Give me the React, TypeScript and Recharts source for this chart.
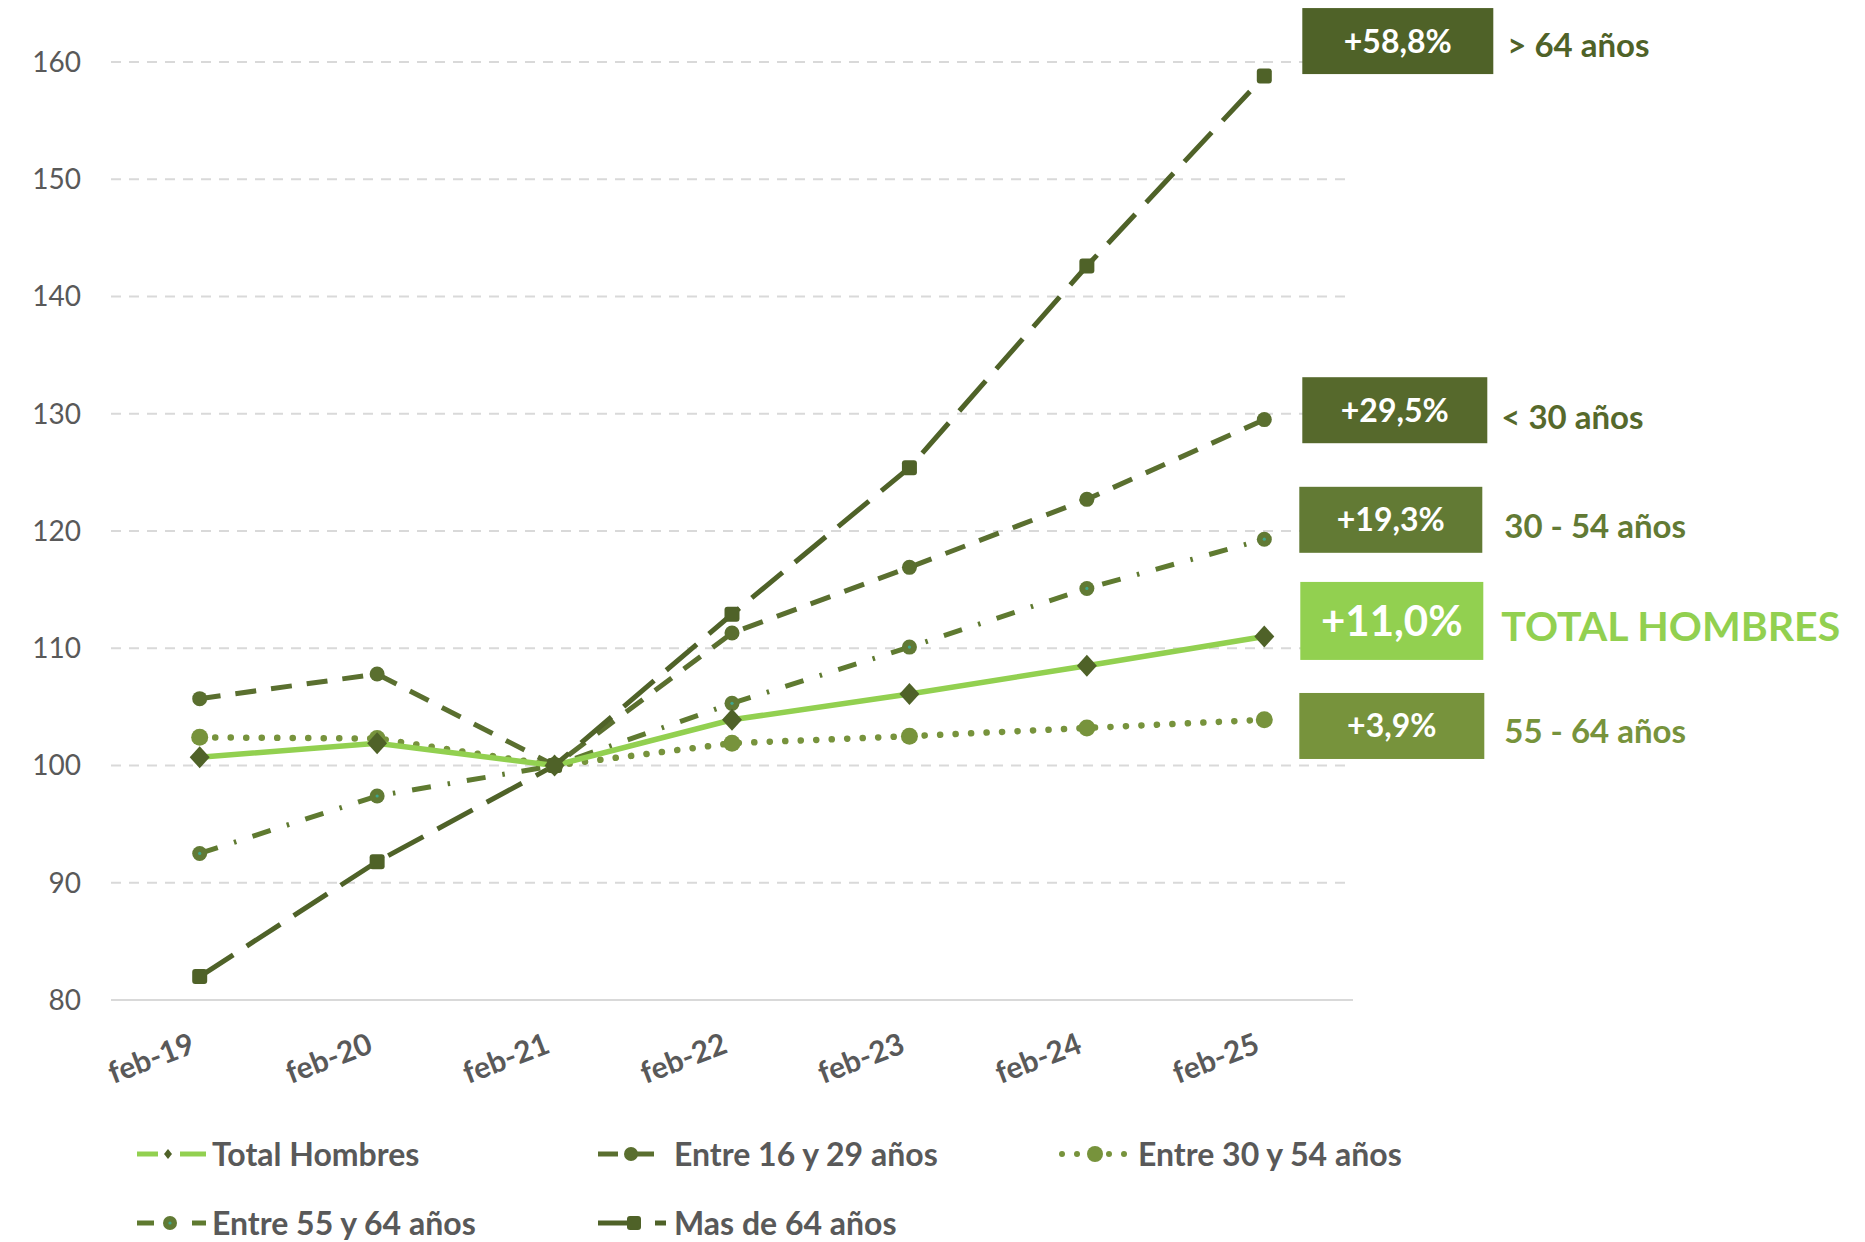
import React from 'react';
import { LineChart, Line, XAxis, YAxis, CartesianGrid, Legend } from 'recharts';

// ---------- DATA ----------
const categories = ['feb-19', 'feb-20', 'feb-21', 'feb-22', 'feb-23', 'feb-24', 'feb-25'];
const totalHombres = [100.7, 101.9, 100.0, 103.9, 106.1, 108.5, 111.0];
const entre16y29 = [105.7, 107.8, 100.0, 111.3, 116.9, 122.7, 129.5];
const entre30y54 = [102.4, 102.3, 100.0, 101.9, 102.5, 103.2, 103.9];
const entre55y64 = [92.5, 97.4, 100.0, 105.3, 110.1, 115.1, 119.3];
const masDe64 = [82.0, 91.8, 100.0, 112.9, 125.4, 142.6, 158.8];
const yTicks = [80, 90, 100, 110, 120, 130, 140, 150, 160];

const seriesKeys = ['total', 'e16', 'e30', 'e55', 'm64'];
const seriesNames = ['Total Hombres', 'Entre 16 y 29 años', 'Entre 30 y 54 años', 'Entre 55 y 64 años', 'Mas de 64 años'];
const endPctLabels = ['+11,0%', '+29,5%', '+3,9%', '+19,3%', '+58,8%'];
const endGroupLabels = ['TOTAL HOMBRES', '< 30 años', '55 - 64 años', '30 - 54 años', '> 64 años'];

const data = categories.map((cat, i) => ({
  cat,
  total: totalHombres[i],
  e16: entre16y29[i],
  e30: entre30y54[i],
  e55: entre55y64[i],
  m64: masDe64[i],
}));

// ---------- STYLE ----------
const FONT = "Lato, 'Open Sans', 'DejaVu Sans', sans-serif";
const W = 1849;
const H = 1234;
const LEGEND_H = 148;

type St = {
  color: string; width: number; dash?: string; cap?: 'round' | 'butt';
  marker: 'diamond' | 'circle' | 'circleTeal' | 'square'; mfill: string; msize: number;
  box: { dx: number; dy: number; w: number; h: number; fill: string; fs: number };
  lab: { gap: number; dy: number; color: string; fs: number };
  legend: { iconX: number; textX: number; rowY: number };
};

const STYLE: Record<string, St> = {
  total: {
    color: '#92D050', width: 5.5, marker: 'diamond', mfill: '#4F6228', msize: 10,
    box: { dx: 36, dy: -15.6, w: 183, h: 78, fill: '#92D050', fs: 42 },
    lab: { gap: 18, dy: 5.7, color: '#92D050', fs: 41 },
    legend: { iconX: 129, textX: 204, rowY: 60 },
  },
  e16: {
    color: '#5A6F2F', width: 5, dash: '21 15', marker: 'circle', mfill: '#5A6F2F', msize: 7.5,
    box: { dx: 38, dy: -9.4, w: 185, h: 66, fill: '#56692C', fs: 32 },
    lab: { gap: 14, dy: 6.5, color: '#56692C', fs: 33 },
    legend: { iconX: 590, textX: 666, rowY: 60 },
  },
  e30: {
    color: '#77933C', width: 6.5, dash: '0.1 15.4', cap: 'round', marker: 'circle', mfill: '#77933C', msize: 8.5,
    box: { dx: 35, dy: 6.2, w: 185, h: 66, fill: '#77933C', fs: 32 },
    lab: { gap: 20, dy: 5.3, color: '#77933C', fs: 33 },
    legend: { iconX: 1049, textX: 1130, rowY: 60 },
  },
  e55: {
    color: '#5F7A30', width: 5, dash: '19 17 2.5 17', marker: 'circleTeal', mfill: '#617A34', msize: 7.5,
    box: { dx: 35, dy: -19.4, w: 183, h: 66, fill: '#627A34', fs: 32 },
    lab: { gap: 22, dy: 6, color: '#627A34', fs: 33 },
    legend: { iconX: 129, textX: 204, rowY: 129 },
  },
  m64: {
    color: '#4F6228', width: 5, dash: '40 16', marker: 'square', mfill: '#4F6228', msize: 7.5,
    box: { dx: 38, dy: -35, w: 191, h: 66, fill: '#4F6228', fs: 32 },
    lab: { gap: 14, dy: 4, color: '#4F6228', fs: 33 },
    legend: { iconX: 590, textX: 666, rowY: 129 },
  },
};

const renderMarker = (st: St, cx: number, cy: number) => {
  const s = st.msize;
  if (st.marker === 'diamond') {
    return <polygon points={`${cx},${cy - s - 1} ${cx + s},${cy} ${cx},${cy + s + 1} ${cx - s},${cy}`} fill={st.mfill} />;
  }
  if (st.marker === 'square') {
    return <rect x={cx - s} y={cy - s} width={2 * s} height={2 * s} rx={3} fill={st.mfill} />;
  }
  if (st.marker === 'circleTeal') {
    return (
      <g>
        <circle cx={cx} cy={cy} r={s} fill={st.mfill} />
        <circle cx={cx} cy={cy} r={1.6} fill="#3FA68C" />
      </g>
    );
  }
  return <circle cx={cx} cy={cy} r={s} fill={st.mfill} />;
};

const renderEndLabel = (key: string, cx: number, cy: number) => {
  const i = seriesKeys.indexOf(key);
  const st = STYLE[key];
  const bx = cx + st.box.dx;
  const bc = cy + st.box.dy;
  const by = bc - st.box.h / 2;
  return (
    <g>
      <rect x={bx} y={by} width={st.box.w} height={st.box.h} fill={st.box.fill} />
      <text
        x={bx + st.box.w / 2}
        y={bc + 0.36 * st.box.fs}
        textAnchor="middle"
        fill="#FFFFFF"
        fontFamily={FONT}
        fontWeight={700}
        fontSize={st.box.fs}
      >
        {endPctLabels[i]}
      </text>
      <text
        x={bx + st.box.w + st.lab.gap}
        y={bc + st.lab.dy + 0.36 * st.lab.fs}
        textAnchor="start"
        fill={st.lab.color}
        fontFamily={FONT}
        fontWeight={700}
        fontSize={st.lab.fs}
      >
        {endGroupLabels[i]}
      </text>
    </g>
  );
};

const makeDot = (key: string) => (props: any) => {
  const { cx, cy, index } = props;
  const k = `${key}-dot-${index}`;
  if (cx == null || cy == null || isNaN(cx) || isNaN(cy)) return <g key={k} />;
  const st = STYLE[key];
  return (
    <g key={k}>
      {renderMarker(st, cx, cy)}
      {index === categories.length - 1 ? renderEndLabel(key, cx, cy) : null}
    </g>
  );
};

const XTick = (props: any) => {
  const { x, y, payload } = props;
  const ax = x - 3;
  const ay = y + 52;
  return (
    <text
      x={ax}
      y={ay}
      transform={`rotate(-21 ${ax} ${ay})`}
      textAnchor="end"
      fill="#595959"
      fontFamily={FONT}
      fontWeight={700}
      fontSize={30}
    >
      {payload.value}
    </text>
  );
};

const LegendIcon = ({ k }: { k: string }) => {
  const st = STYLE[k];
  const c = 20;
  if (k === 'total') {
    return (
      <g>
        <line x1={0} y1={c} x2={21} y2={c} stroke={st.color} strokeWidth={5} />
        <polygon points={`31,${c - 5} 35,${c} 31,${c + 5} 27,${c}`} fill={st.mfill} />
        <line x1={43} y1={c} x2={69} y2={c} stroke={st.color} strokeWidth={5} />
      </g>
    );
  }
  if (k === 'e16') {
    return (
      <g>
        <line x1={0} y1={c} x2={20} y2={c} stroke={st.color} strokeWidth={5} />
        <circle cx={33} cy={c} r={7} fill={st.mfill} />
        <line x1={33} y1={c} x2={56} y2={c} stroke={st.color} strokeWidth={5} />
      </g>
    );
  }
  if (k === 'e30') {
    return (
      <g>
        <circle cx={5} cy={c} r={3} fill={st.color} />
        <circle cx={20} cy={c} r={3} fill={st.color} />
        <circle cx={38} cy={c} r={8} fill={st.mfill} />
        <circle cx={52} cy={c} r={3} fill={st.color} />
        <circle cx={67} cy={c} r={3} fill={st.color} />
      </g>
    );
  }
  if (k === 'e55') {
    return (
      <g>
        <line x1={0} y1={c} x2={17} y2={c} stroke={st.color} strokeWidth={5} />
        <circle cx={33} cy={c} r={7} fill={st.mfill} />
        <circle cx={33} cy={c} r={1.6} fill="#3FA68C" />
        <line x1={55} y1={c} x2={69} y2={c} stroke={st.color} strokeWidth={5} />
      </g>
    );
  }
  return (
    <g>
      <line x1={0} y1={c} x2={32} y2={c} stroke={st.color} strokeWidth={5} />
      <rect x={29} y={c - 7} width={14} height={14} rx={3} fill={st.mfill} />
      <line x1={57} y1={c} x2={68} y2={c} stroke={st.color} strokeWidth={5} />
    </g>
  );
};

const renderLegend = (props: any) => {
  const payload: any[] = props.payload || [];
  return (
    <div style={{ position: 'relative', width: W, height: LEGEND_H, fontFamily: FONT }}>
      {seriesKeys.map((k, i) => {
        const entry = payload.find((p) => p.dataKey === k);
        const name = entry && entry.value ? entry.value : seriesNames[i];
        const slot = STYLE[k].legend;
        return (
          <div
            key={k}
            style={{
              position: 'absolute',
              left: slot.iconX,
              top: slot.rowY - 20,
              height: 40,
              display: 'flex',
              alignItems: 'center',
              whiteSpace: 'nowrap',
            }}
          >
            <svg width={slot.textX - slot.iconX} height={40} style={{ display: 'block' }}>
              <LegendIcon k={k} />
            </svg>
            <span style={{ color: '#595959', fontSize: 32, fontWeight: 700, lineHeight: '40px' }}>{name}</span>
          </div>
        );
      })}
    </div>
  );
};

const drawOrder = ['e30', 'e55', 'e16', 'total', 'm64'];

export default function App() {
  return (
    <div style={{ width: W, height: H, background: '#FFFFFF', overflow: 'visible' }}>
      <style>{'html,body{overflow:hidden;}'}</style>
      <LineChart width={W} height={H} data={data} margin={{ top: 54, right: 504, bottom: 0, left: 0 }}>
        <CartesianGrid vertical={false} stroke="#D9D9D9" strokeWidth={2} strokeDasharray="10 8" />
        <XAxis
          dataKey="cat"
          height={94}
          padding={{ left: 88.7, right: 88.7 }}
          axisLine={{ stroke: '#D9D9D9', strokeWidth: 2 }}
          tickLine={false}
          tickSize={0}
          tickMargin={0}
          tick={<XTick />}
          interval={0}
        />
        <YAxis
          domain={[80, 160]}
          ticks={yTicks}
          width={103}
          axisLine={false}
          tickLine={false}
          tickSize={0}
          tickMargin={30}
          tick={{ fill: '#595959', fontSize: 28, fontFamily: FONT }}
        />
        <Legend
          verticalAlign="bottom"
          align="left"
          content={renderLegend}
          wrapperStyle={{ left: 0, width: W, height: LEGEND_H, bottom: 0 }}
        />
        {drawOrder.map((k) => {
          const st = STYLE[k];
          return (
            <Line
              key={k}
              type="linear"
              dataKey={k}
              name={seriesNames[seriesKeys.indexOf(k)]}
              stroke={st.color}
              strokeWidth={st.width}
              strokeDasharray={st.dash}
              strokeLinecap={st.cap || 'butt'}
              dot={makeDot(k)}
              activeDot={false}
              isAnimationActive={false}
            />
          );
        })}
      </LineChart>
    </div>
  );
}
